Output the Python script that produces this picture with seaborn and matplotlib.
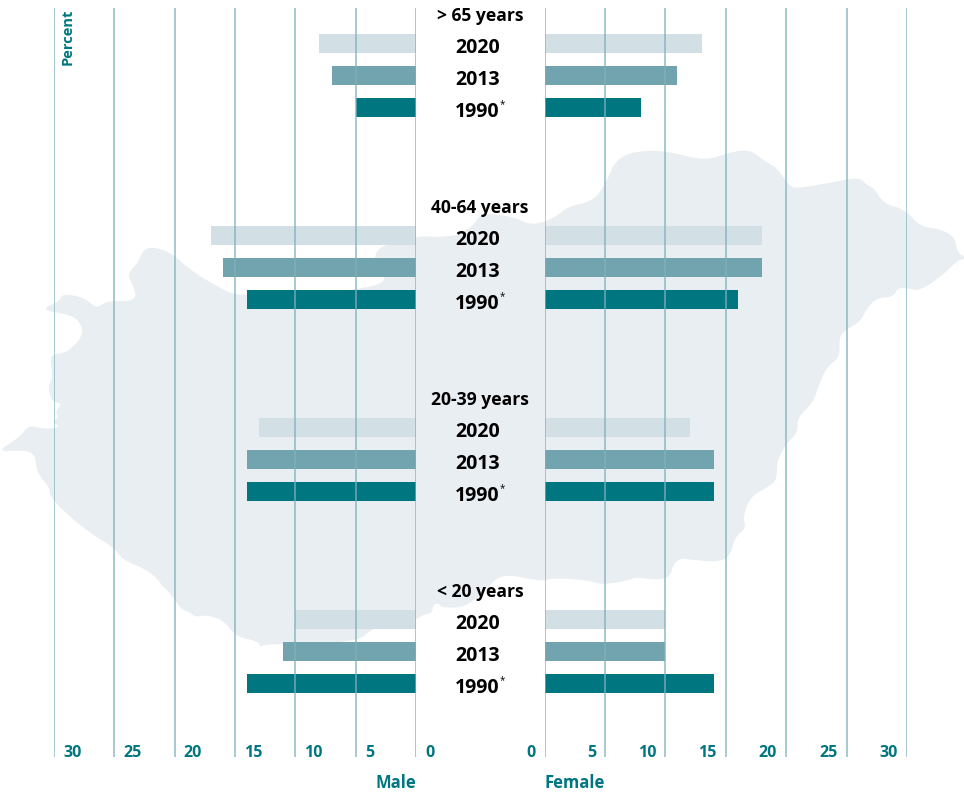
import matplotlib
matplotlib.use('Agg')
import matplotlib.pyplot as plt
import numpy as np
import pandas as pd
import seaborn as sns
from matplotlib.patches import Polygon

# values in percent
age_groups = ['> 65 years', '40-64 years', '20-39 years', '< 20 years']
years = ['2020', '2013', '1990']
male_2020 = [8, 17, 13, 10]
male_2013 = [7, 16, 14, 11]
male_1990 = [5, 14, 14, 14]
female_2020 = [13, 18, 12, 10]
female_2013 = [11, 18, 14, 10]
female_1990 = [8, 16, 14, 14]
tick_values = [0, 5, 10, 15, 20, 25, 30]

# background outline of the country, in image pixels
map_x = [-4, 20, 29, 43, 57, 58, 52, 59, 55, 62, 52, 48, 53, 50, 55, 68, 82, 82, 72, 40,
         60, 62, 83, 95, 100, 108, 137, 133, 127, 138, 143, 153, 170, 193, 220, 233, 247,
         300, 367, 387, 378, 374, 383, 417, 440, 459, 474, 481, 511, 533, 556, 567, 593,
         605, 618, 657, 702, 717, 728, 749, 766, 777, 790, 799, 829, 859, 867, 874, 884,
         904, 921, 940, 955, 957, 968, 958, 943, 920, 907, 898, 893, 877, 868, 860, 845,
         839, 840, 827, 820, 813, 797, 798, 787, 777, 777, 768, 750, 743, 746, 735, 730,
         717, 693, 680, 673, 670, 657, 635, 630, 603, 587, 553, 543, 530, 510, 497, 490,
         467, 443, 438, 433, 432, 423, 417, 395, 373, 357, 283, 263, 261, 257, 237, 223,
         207, 195, 190, 182, 175, 167, 163, 157, 143, 123, 113, 93, 70, 50, 50, 37, 35, 23]
map_y = [452, 437, 425, 429, 428, 425, 422, 417, 413, 403, 402, 387, 377, 358, 354, 352,
         337, 325, 315, 310, 301, 294, 297, 307, 306, 301, 301, 285, 274, 263, 250, 247,
         252, 272, 288, 294, 295, 296, 288, 281, 268, 255, 245, 236, 237, 235, 225, 213,
         216, 226, 217, 207, 201, 185, 155, 149, 160, 157, 153, 149, 162, 168, 187, 188,
         183, 177, 185, 188, 204, 209, 227, 229, 237, 253, 258, 260, 275, 291, 288, 288,
         297, 298, 307, 322, 330, 338, 357, 367, 382, 403, 418, 432, 443, 460, 480, 487,
         497, 517, 528, 537, 557, 562, 560, 558, 565, 577, 580, 577, 580, 585, 580, 578,
         581, 579, 575, 578, 585, 607, 608, 603, 605, 613, 615, 619, 624, 628, 642, 644,
         645, 647, 641, 637, 620, 615, 617, 612, 610, 600, 590, 587, 578, 568, 560, 547,
         535, 517, 497, 488, 473, 454, 450]

year_colors = ['#d2dfe5', '#72a4af', '#007680']
teal = '#007680'
map_color = '#e9eef2'
line_color = '#7fb0bb'

W, H = 964, 795


def make_table(series):
    rows = []
    order = []
    for g, group in enumerate(age_groups):
        for y, year in enumerate(years):
            slot = f'{group} {year}'
            order.append(slot)
            rows.append({'slot': slot, 'year': year, 'value': series[y][g]})
        # empty slots between the groups, one of them holds the group title
        order += [f'gap{g}a', f'gap{g}b', f'gap{g}c']
    return pd.DataFrame(rows), order


def px_axes(fig, left, right, top, bottom):
    return fig.add_axes([left / W, 1 - bottom / H, (right - left) / W, (bottom - top) / H])


def round_corners(points, passes=2):
    # corner cutting so the traced outline does not look like a polygon
    for _ in range(passes):
        nxt = np.roll(points, -1, axis=0)
        points = np.column_stack([0.75 * points + 0.25 * nxt, 0.25 * points + 0.75 * nxt]).reshape(-1, 2)
    return points


sns.set_theme(style='white')
plt.rcParams['font.family'] = ['Open Sans', 'DejaVu Sans']

fig = plt.figure(figsize=(W / 100, H / 100), dpi=100, facecolor='white')

bg = fig.add_axes([0, 0, 1, 1])
bg.set_xlim(0, W)
bg.set_ylim(H, 0)
bg.axis('off')
outline = round_corners(np.column_stack([map_x, map_y]).astype(float))
bg.add_patch(Polygon(outline, closed=True, fc=map_color, ec='none'))

ax_m = px_axes(fig, 54, 416, 8, 757)
ax_f = px_axes(fig, 544.5, 907, 8, 757)

df_m, order = make_table([male_2020, male_2013, male_1990])
df_f, order = make_table([female_2020, female_2013, female_1990])

for ax, df in [(ax_m, df_m), (ax_f, df_f)]:
    sns.barplot(data=df, x='value', y='slot', hue='year', order=order, hue_order=years,
                palette=year_colors, dodge=False, width=19 / 32, saturation=1,
                linewidth=0, legend=False, ax=ax)
    ax.patch.set_alpha(0)
    ax.set_ylim((757 - 43.5) / 32, (8 - 43.5) / 32)
    ax.set_xlabel('')
    ax.set_ylabel('')
    ax.set_yticks([])
    ax.set_xticks(tick_values)
    ax.set_xticklabels([])
    ax.tick_params(length=0)
    ax.set_axisbelow(False)
    ax.grid(axis='x', color=line_color, alpha=0.8, lw=1.2)
    sns.despine(ax=ax, left=True, right=True, top=True, bottom=True)

ax_m.set_xlim(30, 0)
ax_f.set_xlim(0, 30)

for v in tick_values:
    ax_m.annotate(str(v), xy=(v, 42), xycoords=('data', 'figure pixels'), xytext=(6.5, 0),
                  textcoords='offset points', ha='left', va='center', color=teal,
                  fontsize=11.5, fontweight='bold', annotation_clip=False)
    ax_f.annotate(str(v), xy=(v, 42), xycoords=('data', 'figure pixels'), xytext=(-6.5, 0),
                  textcoords='offset points', ha='right', va='center', color=teal,
                  fontsize=11.5, fontweight='bold', annotation_clip=False)

# text column between the two halves
for g, group in enumerate(age_groups):
    bg.text(480, 16 + 192 * g, group, ha='center', va='center', color='black',
            fontsize=12.6, fontweight='bold')
    for y, year in enumerate(years):
        bg.text(477.5, 48 + 192 * g + 32 * y, year, ha='center', va='center', color='black',
                fontsize=14, fontweight='bold')
    # 1990 carries a small footnote mark
    bg.text(502, 105 + 192 * g, '*', ha='center', va='center', color='black', fontsize=7)

bg.text(68, 37, 'Percent', rotation=90, ha='center', va='center', color=teal,
        fontsize=10.5, fontweight='bold')
bg.text(416, 783, 'Male', ha='right', va='center', color=teal, fontsize=12, fontweight='bold')
bg.text(544, 783, 'Female', ha='left', va='center', color=teal, fontsize=12, fontweight='bold')

fig.savefig('out.png', dpi=100)
plt.close(fig)
